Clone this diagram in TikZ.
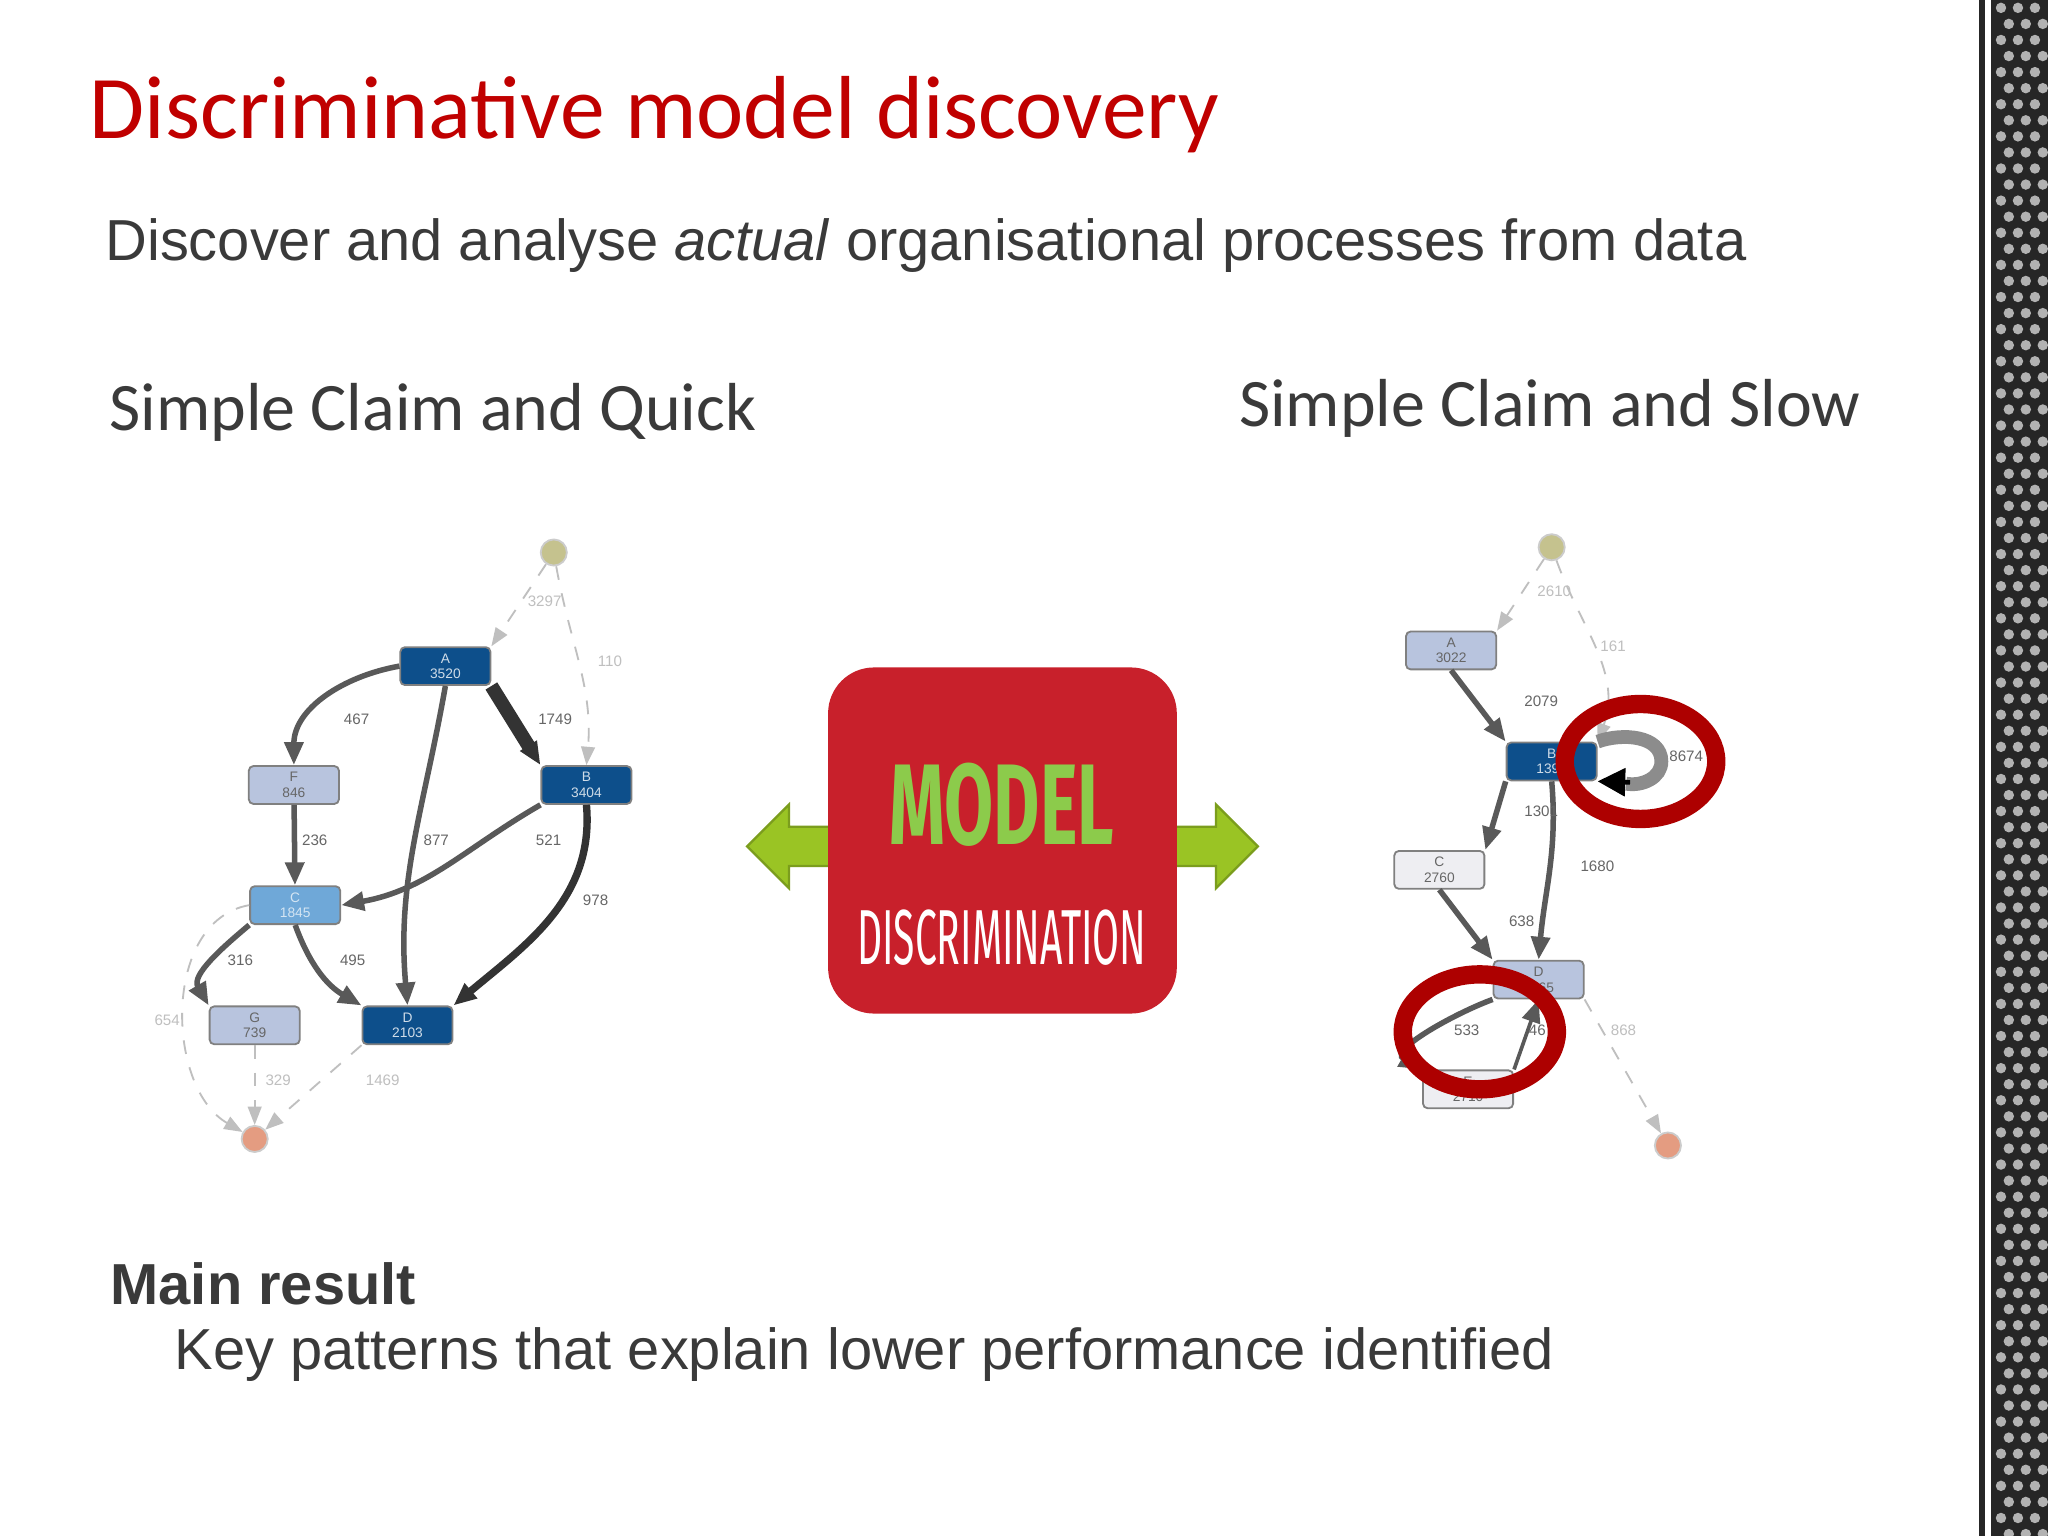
\documentclass[tikz,border=0pt]{standalone}
\usepackage{fontspec}
\setmainfont{Liberation Sans}
\newfontfamily\calib{Carlito}
\newfontfamily\cond{Fira Sans}
\usetikzlibrary{arrows.meta}
\definecolor{dblue}{HTML}{0D4F8B}
\definecolor{lblue}{HTML}{B8C4DE}
\definecolor{mblue}{HTML}{6FA8D8}
\definecolor{wbox}{HTML}{EEEEF2}
\definecolor{txt}{HTML}{3A3A3A}
\definecolor{titred}{HTML}{C00000}
\definecolor{boxred}{HTML}{C8202B}
\definecolor{mgreen}{HTML}{8CCB4B}
\definecolor{agreen}{HTML}{9AC424}
\tikzset{
 pn/.style={draw=black!50,rounded corners=1pt,minimum width=0.69cm,minimum height=0.29cm,inner sep=0pt,font=\fontsize{3}{3.4}\selectfont,align=center},
 dk/.style={pn,fill=dblue,text=white!80!dblue},
 lt/.style={pn,fill=lblue,text=black!60},
 md/.style={pn,fill=mblue,text=white!70!mblue},
 wt/.style={pn,fill=wbox,text=black!60},
 ed/.style={-{Triangle[length=5pt,width=4pt]},draw=black!65,line width=1.2pt},
 fe/.style={-{Triangle[length=4pt,width=3pt]},draw=black!25,dashed,line width=0.4pt},
 el/.style={font=\fontsize{3.3}{4}\selectfont,text=black!60},
 fl/.style={font=\fontsize{3.3}{4}\selectfont,text=black!25},
 ring/.style={draw=titred!90!black,line width=4pt},
 garrow/.style={fill=agreen,draw=agreen!80!black,line width=0.5pt},
}
\begin{document}
\begin{tikzpicture}[x=0.1mm,y=-0.1mm]
\useasboundingbox (0,0) rectangle (1568,1176);
\fill[white] (0,0) rectangle (1568,1176);
% decorative strip
\fill[black!85] (1515,0) rectangle (1568,1176);
\fill[white] (1520,0) rectangle (1524,1176);
\foreach \j in {0,...,95}{\foreach \i in {0,1,2}{
 \fill[white!70!black] ({1532+\i*13+mod(\j,2)*6},{\j*12.3+6}) circle (4);}}
% titles
\node[anchor=west,inner sep=0pt,text=titred,font=\calib\fontsize{19.5}{21}\selectfont] (title) at (68,88) {Discriminative model discovery};
\node[anchor=west,inner sep=0pt,text=txt,font=\fontsize{12.6}{14}\selectfont] (sub) at (80,188) {Discover and analyse \textit{actual} organisational processes from data};
\node[anchor=west,inner sep=0pt,text=txt,font=\calib\fontsize{14.8}{17}\selectfont] (hl) at (83,316) {Simple Claim and Quick};
\node[anchor=west,inner sep=0pt,text=txt,font=\calib\fontsize{14.8}{17}\selectfont] (hr) at (948,313) {Simple Claim and Slow};
\node[anchor=west,inner sep=0pt,text=txt,font=\bfseries\fontsize{12.6}{14}\selectfont] (mr) at (84,983) {Main result};
\node[anchor=west,inner sep=0pt,text=txt,font=\fontsize{12.6}{14}\selectfont] (kp) at (133,1037) {Key patterns that explain lower performance identified};
% centre box
\draw[garrow] (640,633) -- (604,633) -- (604,616) -- (572,648) -- (604,680) -- (604,663) -- (640,663) -- cycle;
\draw[garrow] (895,633) -- (931,633) -- (931,616) -- (963,648) -- (931,680) -- (931,663) -- (895,663) -- cycle;
\node[fill=boxred,rounded corners=10pt,minimum width=2.67cm,minimum height=2.65cm] (mbox) at (767.5,643.5) {};
\node[text=mgreen,font=\cond\bfseries\fontsize{25}{25}\selectfont,xscale=0.62] (m1) at (767,616) {MODEL};
\node[text=white,font=\cond\fontsize{17}{17}\selectfont,xscale=0.5] (m2) at (767,718) {DISCRIMINATION};
% left graph
\node[circle,fill=black!30!olive!40,draw=black!20,minimum size=0.2cm,inner sep=0pt] (ls) at (424,423) {};
\node[dk] (lA) at (341,510) {A\\3520};
\node[lt] (lF) at (225,601) {F\\846};
\node[dk] (lB) at (449,601) {B\\3404};
\node[md] (lC) at (226,693) {C\\1845};
\node[lt] (lG) at (195,785) {G\\739};
\node[dk] (lD) at (312,785) {D\\2103};
\node[circle,fill=red!30!brown!60,draw=black!20,minimum size=0.2cm,inner sep=0pt] (le) at (195,872) {};
\draw[fe] (ls) -- (lA.north east);
\draw[fe] (ls) to[out=-80,in=85] (lB.north);
\draw[ed] (lA.west) to[out=190,in=90] (lF.north);
\draw[ed,line width=3pt,draw=black!80] (lA.south east) -- (lB.north west);
\draw[ed] (lA.south) to[out=-100,in=95] (lD.north);
\draw[ed] (lF) -- (lC);
\draw[ed] (lB.south west) to[out=-150,in=10] (lC.east);
\draw[ed,line width=1.6pt,draw=black!80] (lB.south) to[out=-85,in=40] (lD.north east);
\draw[ed] (lC.south west) to[out=-140,in=120] (lG.north west);
\draw[ed] (lC.south) to[out=-70,in=150] (lD.north west);
\draw[fe] (lC.west) to[out=190,in=150] (le);
\draw[fe] (lG) -- (le);
\draw[fe] (lD.south west) -- (le);
\node[fl] (l1) at (417,460) {3297};
\node[fl] (l2) at (467,506) {110};
\node[el] (l3) at (273,551) {467};
\node[el] (l4) at (425,551) {1749};
\node[el] (l5) at (241,643) {236};
\node[el] (l6) at (334,643) {877};
\node[el] (l7) at (420,643) {521};
\node[el] (l8) at (456,689) {978};
\node[el] (l9) at (184,735) {316};
\node[el] (l10) at (270,735) {495};
\node[fl] (l11) at (128,781) {654};
\node[fl] (l12) at (213,827) {329};
\node[fl] (l13) at (293,827) {1469};
% right graph
\node[circle,fill=black!30!olive!40,draw=black!20,minimum size=0.2cm,inner sep=0pt] (rs) at (1188,419) {};
\node[lt] (rA) at (1111,498) {A\\3022};
\node[dk] (rB) at (1188,583) {B\\1397};
\node[wt] (rC) at (1102,666) {C\\2760};
\node[lt] (rD) at (1178,750) {D\\3165};
\node[wt] (rE) at (1124,834) {E\\2710};
\node[circle,fill=red!30!brown!60,draw=black!20,minimum size=0.2cm,inner sep=0pt] (re) at (1277,877) {};
\draw[fe] (rs) -- (rA.north east);
\draw[fe] (rs) to[out=-70,in=70] (rB.north east);
\draw[ed] (rA.south) -- (rB.north west);
\draw[draw=black!45,line width=3pt] (rB.north east) to[out=20,in=90] (1272,583) to[out=-90,in=-10] (1245,600);
\draw[-{Triangle[length=6pt,width=6pt]},line width=1pt] (1248,599) -- (rB.south east);
\draw[ed] (rB.south west) -- (rC.north east);
\draw[ed] (rB.south) to[out=-85,in=85] (rD.north);
\draw[ed] (rC.south) -- (rD.north west);
\draw[ed] (rD.south west) to[out=200,in=150] (rE.north west);
\draw[ed,line width=0.8pt] (rE.north east) -- (rD.south);
\draw[fe] (rD.south east) -- (re);
\node[fl] (r1) at (1190,453) {2610};
\node[fl] (r2) at (1235,495) {161};
\node[el] (r3) at (1180,537) {2079};
\node[el] (r4) at (1291,579) {8674};
\node[el] (r5) at (1180,621) {1301};
\node[el] (r6) at (1223,663) {1680};
\node[el] (r7) at (1165,705) {638};
\node[el] (r8) at (1123,789) {533};
\node[el] (r9) at (1177,789) {46};
\node[fl] (r10) at (1243,789) {868};
\draw[ring] (1256,583) ellipse [x radius=58,y radius=44];
\draw[ring] (1133,790) ellipse [x radius=59,y radius=44];
\end{tikzpicture}
\end{document}
